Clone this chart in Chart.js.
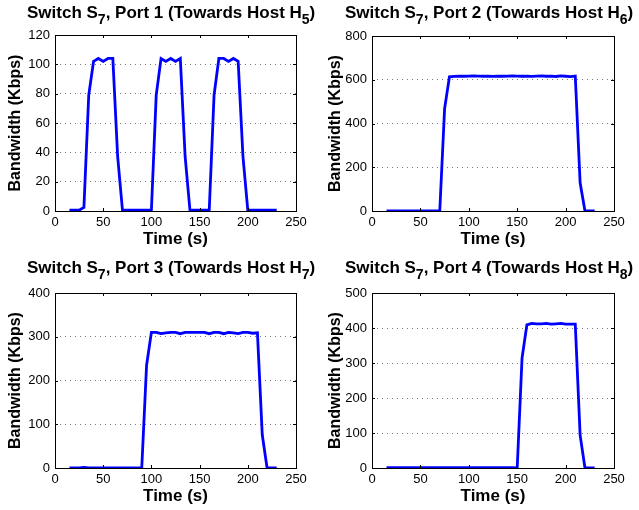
<!DOCTYPE html>
<html lang="en">
<head>
<meta charset="UTF-8">
<title>Switch S7 port bandwidth</title>
<script src="https://cdn.jsdelivr.net/npm/chart.js"></script>
<style>
    body { margin: 0; background: #fff; }
    #wrap { position: relative; width: 639px; height: 510px; overflow: hidden; }
    .panel { position: absolute; }
    .titulo {
        position: absolute;
        font: bold 17px "Liberation Sans", Arial, sans-serif;
        color: #000;
        white-space: nowrap;
        line-height: 17px;
    }
    .titulo sub { font-size: 14px; position: relative; top: 6px; vertical-align: baseline; }
</style>
</head>
<body>
<div id="wrap">
    <div class="panel" style="left:0;top:0;width:320px;height:255px"><canvas id="p1"></canvas></div>
    <div class="panel" style="left:320px;top:0;width:319px;height:255px"><canvas id="p2"></canvas></div>
    <div class="panel" style="left:0;top:255px;width:320px;height:255px"><canvas id="p3"></canvas></div>
    <div class="panel" style="left:320px;top:255px;width:319px;height:255px"><canvas id="p4"></canvas></div>

    <div class="titulo" style="left:27px;top:4px">Switch S<sub>7</sub>, Port 1 (Towards Host H<sub>5</sub>)</div>
    <div class="titulo" style="left:345px;top:4px">Switch S<sub>7</sub>, Port 2 (Towards Host H<sub>6</sub>)</div>
    <div class="titulo" style="left:27px;top:259px">Switch S<sub>7</sub>, Port 3 (Towards Host H<sub>7</sub>)</div>
    <div class="titulo" style="left:345px;top:259px">Switch S<sub>7</sub>, Port 4 (Towards Host H<sub>8</sub>)</div>
</div>

<script>
    // sample times (s)
    var tempo = [15, 20, 25, 30, 35, 40, 45, 50, 55, 60,
        65, 70, 75, 80, 85, 90, 95, 100, 105, 110,
        115, 120, 125, 130, 135, 140, 145, 150, 155, 160,
        165, 170, 175, 180, 185, 190, 195, 200, 205, 210,
        215, 220, 225, 230];

    // bandwidth per port (Kbps)
    var porta1 = [0.5, 0.5, 0.5, 2.5, 79, 102, 104, 102, 104, 104,
        37, 0.5, 0.5, 0.5, 0.5, 0.5, 0.5, 0.5, 79, 104,
        102, 104, 102, 104, 37, 0.5, 0.5, 0.5, 0.5, 0.5,
        79, 104, 104, 102, 104, 102, 37, 0.5, 0.5, 0.5,
        0.5, 0.5, 0.5, 0.5];
    var porta2 = [0, 0, 0, 1, 0, 0, 0, 0, 0, 0,
        0, 0, 468, 613, 615, 616, 616, 617, 618, 617,
        616, 617, 615, 617, 616, 617, 618, 617, 616, 617,
        615, 617, 618, 616, 617, 615, 618, 616, 614, 617,
        129, 0, 0, 0];
    var porta3 = [0.5, 0.5, 0.5, 1.5, 0.5, 0.5, 0.5, 0.5, 0.5, 0.5,
        0.5, 0.5, 0.5, 0.5, 0.5, 0, 235, 310, 310, 307,
        309, 310, 310, 307, 310, 310, 310, 310, 310, 307,
        310, 310, 307, 310, 309, 307, 310, 310, 308, 309,
        76, 0, 0, 0];
    var porta4 = [1, 1, 1, 1, 1, 1, 1, 1, 1, 1,
        1, 1, 1, 1, 1, 1, 1, 1, 1, 1,
        1, 1, 1, 1, 1, 1, 1, 0, 314, 409,
        413, 412, 412, 413, 411, 412, 413, 411, 411, 411,
        94, 0, 0, 0];

    var xTicks = [0, 50, 100, 150, 200, 250];
    var yMax = [120, 800, 400, 500];
    var yPasso = [20, 200, 100, 100];

    // box around the plot area with inward ticks (matlab look)
    var moldura = {
        id: 'moldura',
        afterDraw: function (chart) {
            var ctx = chart.ctx;
            var a = chart.chartArea;
            var sx = chart.scales.x, sy = chart.scales.y;
            ctx.save();
            ctx.strokeStyle = '#000';
            ctx.lineWidth = 1;
            ctx.strokeRect(Math.round(a.left) + 0.5, Math.round(a.top) + 0.5,
                Math.round(a.right - a.left), Math.round(a.bottom - a.top));
            ctx.beginPath();
            sx.ticks.forEach(function (t) {
                var px = Math.round(sx.getPixelForValue(t.value)) + 0.5;
                ctx.moveTo(px, a.bottom); ctx.lineTo(px, a.bottom - 3);
                ctx.moveTo(px, a.top); ctx.lineTo(px, a.top + 3);
            });
            sy.ticks.forEach(function (t) {
                var py = Math.round(sy.getPixelForValue(t.value)) + 0.5;
                ctx.moveTo(a.left, py); ctx.lineTo(a.left + 3, py);
                ctx.moveTo(a.right, py); ctx.lineTo(a.right - 3, py);
            });
            ctx.stroke();
            ctx.restore();
        }
    };

    function grafico(id, valores, i, larguraY, pad) {
        var ctx = document.getElementById(id);
        new Chart(ctx, {
            type: 'line',
            data: {
                labels: tempo,
                datasets: [{
                    data: valores,
                    borderColor: 'rgb(0, 0, 255)',
                    borderWidth: 2.8,
                    pointRadius: 0,
                    tension: 0,
                    fill: false
                }]
            },
            options: {
                responsive: true,
                maintainAspectRatio: false,
                animation: false,
                events: [],
                layout: { padding: pad },
                plugins: { legend: { display: false }, tooltip: { enabled: false } },
                scales: {
                    x: {
                        type: 'linear',
                        min: 0, max: 250,
                        afterBuildTicks: function (s) { s.ticks = xTicks.map(function (v) { return { value: v }; }); },
                        afterFit: function (s) { s.height = 42; },
                        grid: { display: false, drawTicks: false, tickLength: 0 },
                        border: { display: false },
                        ticks: { padding: 4, color: '#000', font: { family: 'Liberation Sans', size: 13 } },
                        title: {
                            display: true, text: 'Time (s)', color: '#000',
                            padding: { top: 0, bottom: 3 },
                            font: { family: 'Liberation Sans', size: 17, weight: 'bold' }
                        }
                    },
                    y: {
                        min: 0, max: yMax[i],
                        ticks: { stepSize: yPasso[i], padding: 5, color: '#000', font: { family: 'Liberation Sans', size: 13 } },
                        afterFit: function (s) { s.width = larguraY; },
                        grid: { color: '#777', drawTicks: false, lineWidth: 1 },
                        border: { display: false, dash: [1, 4] },
                        title: {
                            display: true, text: 'Bandwidth (Kbps)', color: '#000',
                            padding: { top: 6, bottom: 0 },
                            font: { family: 'Liberation Sans', size: 16, weight: 'bold' }
                        }
                    }
                }
            },
            plugins: [moldura]
        });
    }

    grafico('p1', porta1, 0, 55, { left: 0, right: 24, top: 35, bottom: 2 });
    grafico('p2', porta2, 1, 52, { left: 0, right: 25, top: 36, bottom: 2 });
    grafico('p3', porta3, 2, 55, { left: 0, right: 24, top: 38, bottom: 0 });
    grafico('p4', porta4, 3, 52, { left: 0, right: 25, top: 38, bottom: 0 });
</script>
</body>
</html>
